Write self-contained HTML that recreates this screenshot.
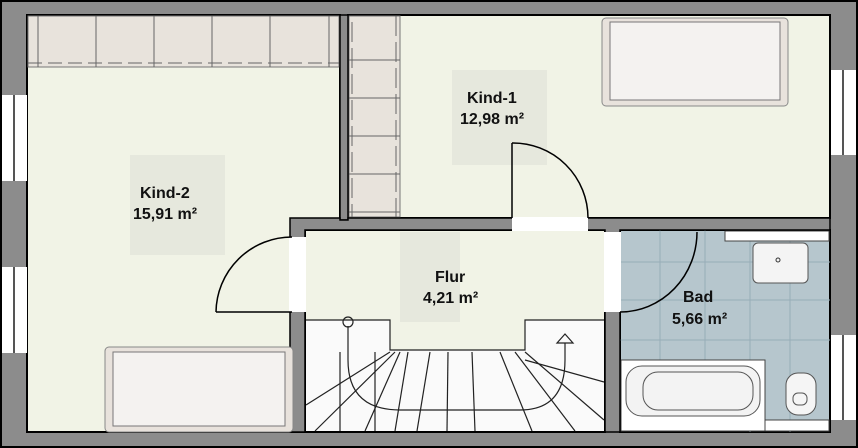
<!DOCTYPE html>
<html><head><meta charset="utf-8"><style>
html,body{margin:0;padding:0;background:#fff}
svg{display:block}
text{font-family:"Liberation Sans",sans-serif;font-weight:bold;font-size:16px;fill:#111}
</style></head><body>
<svg width="858" height="448" viewBox="0 0 858 448" xmlns="http://www.w3.org/2000/svg">
<rect x="0" y="0" width="858" height="448" fill="#8c8c8c"/>
<rect x="27" y="15" width="313" height="417" fill="#f1f3e6" stroke="#000" stroke-width="2"/>
<rect x="348" y="15" width="482" height="203" fill="#f1f3e6" stroke="#000" stroke-width="2"/>
<rect x="305" y="230" width="300" height="202" fill="#f1f3e6" stroke="#000" stroke-width="2"/>
<rect x="620" y="230" width="210" height="202" fill="#b6c6cd" stroke="#000" stroke-width="2"/>
<rect x="130" y="155" width="95" height="100" fill="#e6e8dd"/>
<rect x="452" y="70" width="95" height="95" fill="#e6e8dd"/>
<rect x="28" y="16" width="311" height="51" fill="#e8e3dc" stroke="#777" stroke-width="1"/>
<g stroke="#666" stroke-width="1">
<line x1="38" y1="16" x2="38" y2="67"/><line x1="96" y1="16" x2="96" y2="67"/><line x1="154" y1="16" x2="154" y2="67"/><line x1="212" y1="16" x2="212" y2="67"/><line x1="270" y1="16" x2="270" y2="67"/><line x1="329" y1="16" x2="329" y2="67"/>
<line x1="28" y1="63" x2="339" y2="63" stroke-dasharray="14,6"/>
</g>
<rect x="349" y="16" width="51" height="201" fill="#e8e3dc" stroke="#777"/>
<g stroke="#666"><line x1="396" y1="16" x2="396" y2="217" stroke-dasharray="20,6"/>
<line x1="349" y1="60" x2="400" y2="60"/><line x1="349" y1="98" x2="400" y2="98"/><line x1="349" y1="136" x2="400" y2="136"/><line x1="349" y1="174" x2="400" y2="174"/><line x1="349" y1="212" x2="400" y2="212"/>
<line x1="352" y1="22" x2="352" y2="217" stroke-dasharray="20,6"/></g>
<rect x="340" y="15" width="8" height="205" fill="#8c8c8c" stroke="#000" stroke-width="1.5"/>
<rect x="306" y="320" width="298" height="111" fill="#fafafa"/>
<rect x="306" y="231" width="298" height="89" fill="#f1f3e6"/>
<rect x="390" y="231" width="135" height="119" fill="#f1f3e6"/>
<rect x="400" y="232" width="60" height="90" fill="#e6e8dd"/>
<g stroke="#222" stroke-width="1.2" fill="none">
<path d="M306 320 L390 320 L390 350 L525 350 L525 320 L604 320"/>
<line x1="390" y1="352" x2="306" y2="405"/><line x1="395" y1="352" x2="315" y2="431"/>
<line x1="400" y1="352" x2="365" y2="431"/><line x1="408" y1="352" x2="395" y2="431"/>
<line x1="430" y1="352" x2="417" y2="431"/><line x1="448" y1="352" x2="447" y2="431"/>
<line x1="472" y1="352" x2="475" y2="431"/><line x1="500" y1="352" x2="532" y2="431"/>
<line x1="515" y1="352" x2="575" y2="431"/><line x1="525" y1="352" x2="604" y2="420"/>
<line x1="525" y1="360" x2="604" y2="382"/>
<line x1="340" y1="352" x2="340" y2="431"/><line x1="375" y1="352" x2="375" y2="431"/>
<path d="M348 326 L348 360 Q348 410 400 410 L520 410 Q565 410 565 360 L565 343"/>
<circle cx="348" cy="322" r="5"/>
<path d="M557 343 L565 334 L573 343 Z"/>
</g>
<g stroke="#97adb8" stroke-width="1">
<line x1="620" y1="262" x2="830" y2="262"/><line x1="620" y1="300" x2="830" y2="300"/><line x1="620" y1="340" x2="830" y2="340"/>
<line x1="660" y1="230" x2="660" y2="360"/><line x1="705" y1="230" x2="705" y2="360"/><line x1="750" y1="230" x2="750" y2="432"/><line x1="790" y1="230" x2="790" y2="432"/>
</g>
<rect x="725" y="231" width="104" height="10" fill="#fff" stroke="#444"/>
<rect x="753" y="243" width="55" height="40" rx="5" fill="#f4f4f4" stroke="#555"/>
<circle cx="778" cy="260" r="2" fill="none" stroke="#333"/>
<rect x="621" y="360" width="144" height="71" fill="#fff" stroke="#444"/>
<rect x="626" y="366" width="134" height="50" rx="16" fill="#f3f3f3" stroke="#555"/>
<rect x="643" y="372" width="110" height="38" rx="15" fill="none" stroke="#555"/>
<rect x="765" y="420" width="64" height="11" fill="#fff" stroke="#444"/>
<rect x="786" y="373" width="30" height="42" rx="12" fill="#f5f5f5" stroke="#555"/>
<rect x="793" y="393" width="14" height="12" rx="5" fill="none" stroke="#555"/>
<path d="M290 218 L340 218 L340 220 L348 220 L348 218 L830 218 L830 230 L620 230 L620 432 L605 432 L605 230 L305 230 L305 432 L290 432 Z" fill="#8c8c8c" stroke="#000" stroke-width="1.5"/>
<rect x="512" y="217" width="76" height="14" fill="#fff"/>
<rect x="289" y="237" width="17" height="75" fill="#fff"/>
<rect x="604" y="232" width="17" height="80" fill="#fff"/>
<rect x="2" y="95" width="25" height="86" fill="#fff"/><line x1="14" y1="95" x2="14" y2="181" stroke="#555" stroke-width="2"/>
<rect x="2" y="267" width="25" height="86" fill="#fff"/><line x1="14" y1="267" x2="14" y2="353" stroke="#555" stroke-width="2"/>
<rect x="831" y="70" width="25" height="85" fill="#fff"/><line x1="843" y1="70" x2="843" y2="155" stroke="#555" stroke-width="2"/>
<rect x="831" y="335" width="25" height="85" fill="#fff"/><line x1="843" y1="335" x2="843" y2="420" stroke="#555" stroke-width="2"/>
<g stroke="#000" stroke-width="2" fill="none">
<line x1="0" y1="1" x2="858" y2="1"/><line x1="1" y1="0" x2="1" y2="448"/><line x1="857" y1="0" x2="857" y2="448"/><line x1="0" y1="447" x2="858" y2="447"/>
</g>
<rect x="602" y="18" width="186" height="88" rx="4" fill="#e8e2dc" stroke="#888"/>
<rect x="610" y="22" width="170" height="78" fill="#f4f2f0" stroke="#777"/>
<rect x="105" y="347" width="188" height="85" rx="4" fill="#e8e2dc" stroke="#888"/>
<rect x="113" y="352" width="172" height="74" fill="#f4f2f0" stroke="#777"/>
<g stroke="#000" stroke-width="1.5" fill="none">
<line x1="512" y1="218" x2="512" y2="143"/><path d="M512 143 A75 75 0 0 1 588 218"/>
<line x1="292" y1="312" x2="216" y2="312"/><path d="M216 312 A76 76 0 0 1 292 237"/>
<path d="M697 232 A77 80 0 0 1 620 312"/>
</g>
<text x="140" y="198">Kind-2</text><text x="133" y="219">15,91 m²</text>
<text x="467" y="103">Kind-1</text><text x="460" y="124">12,98 m²</text>
<text x="435" y="282">Flur</text><text x="423" y="303">4,21 m²</text>
<text x="683" y="302">Bad</text><text x="672" y="324">5,66 m²</text>
</svg>
</body></html>
